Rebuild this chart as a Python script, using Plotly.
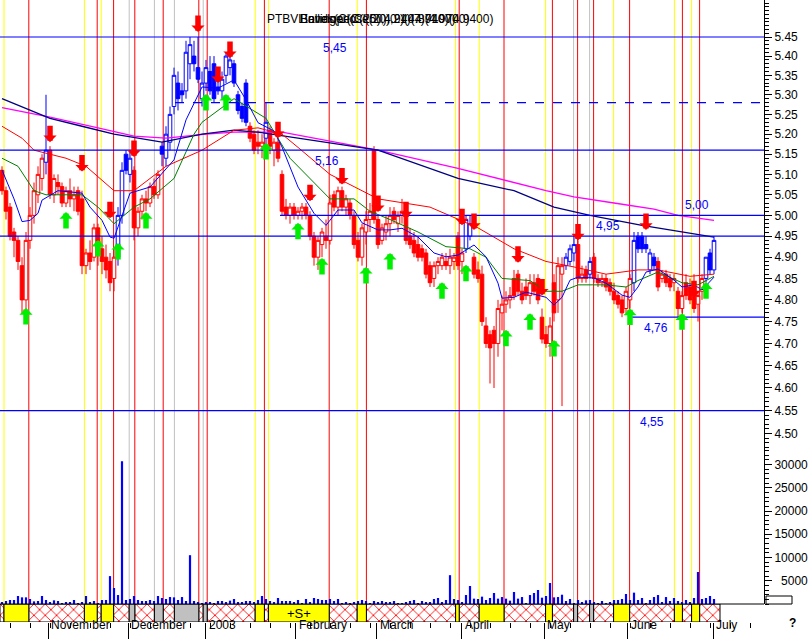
import math
import plotly.graph_objects as go

# ---------------- data ----------------
open_ = [5.11,5.06,5.02,4.96,4.94,4.88,4.80,4.94,5.00,5.05, 5.09,5.13,5.16,5.05,5.08,5.07,5.03,5.06,5.04,5.06,
         5.04,4.88,4.91,4.90,4.97,4.92,4.90,4.89,4.85,4.90, 5.00,5.15,5.10,5.11,4.97,5.01,5.04,5.03,5.07,5.05,
         5.17,5.14,5.18,5.27,5.33,5.31,5.31,5.38,5.40,5.37, 5.29,5.33,5.36,5.38,5.32,5.31,5.35,5.37,5.38,5.30,
         5.27,5.33,5.22,5.20,5.18,5.17,5.19,5.21,5.16,5.18, 5.10,5.02,5.00,5.02,5.00,5.01,5.02,5.00,4.95,4.90,
         4.93,4.95,4.94,5.05,5.02,5.06,5.02,5.03,5.00,4.94, 4.90,4.96,4.99,5.16,4.99,4.94,4.96,4.98,5.01,4.98,
         5.00,5.01,4.95,4.94,4.93,4.92,4.91,4.88,4.85,4.88, 4.88,4.89,4.88,4.89,4.95,4.89,4.92,4.95,4.90,4.87,
         4.86,4.74,4.72,4.73,4.70,4.77,4.79,4.80,4.85,4.86, 4.82,4.83,4.81,4.84,4.85,4.76,4.72,4.70,4.84,4.80,
         4.86,4.88,4.89,4.91,4.93,4.85,4.87,4.86,4.90,4.85, 4.84,4.85,4.84,4.82,4.81,4.80,4.78,4.80,4.84,4.95,
         4.95,4.93,4.87,4.90,4.89,4.85,4.86,4.85,4.84,4.82, 4.78,4.84,4.83,4.83,4.79,4.82,4.85,4.91,4.87]
high = [5.12,5.07,5.03,4.97,4.95,4.90,4.96,5.02,5.08,5.12, 5.15,5.30,5.17,5.10,5.10,5.08,5.07,5.09,5.07,5.07,
        5.06,4.92,4.94,4.98,4.98,4.95,4.93,4.91,4.92,5.02, 5.13,5.16,5.16,5.12,5.02,5.05,5.06,5.08,5.09,5.11,
        5.18,5.22,5.27,5.37,5.36,5.33,5.44,5.45,5.44,5.45, 5.36,5.39,5.40,5.40,5.35,5.36,5.41,5.40,5.39,5.31,
        5.28,5.34,5.23,5.21,5.21,5.20,5.28,5.22,5.19,5.19, 5.11,5.04,5.03,5.03,5.02,5.03,5.03,5.01,4.96,4.95,
        4.97,4.99,5.05,5.06,5.07,5.07,5.05,5.04,5.01,4.96, 4.98,5.01,5.03,5.17,5.00,4.98,5.00,5.02,5.02,5.01,
        5.04,5.02,4.97,4.96,4.95,4.93,4.92,4.89,4.89,4.90, 4.91,4.91,4.92,4.91,4.96,4.92,5.00,5.00,4.91,4.89,
        4.88,4.76,4.73,4.74,4.80,4.81,4.82,4.83,4.87,4.87, 4.84,4.85,4.86,4.86,4.86,4.78,4.74,4.76,4.86,4.90,
        4.90,4.91,4.93,4.95,4.94,4.88,4.88,4.90,4.91,4.86, 4.86,4.86,4.85,4.84,4.82,4.81,4.83,4.86,4.96,4.96,
        4.96,4.95,4.92,4.91,4.90,4.87,4.87,4.86,4.86,4.83, 4.82,4.86,4.85,4.86,4.82,4.86,4.90,4.92,4.95]
low = [5.05,4.99,4.94,4.90,4.87,4.77,4.77,4.92,4.98,5.03, 5.06,5.10,5.04,5.03,5.05,5.02,5.02,5.02,5.01,5.00,
       4.86,4.86,4.87,4.89,4.88,4.86,4.85,4.82,4.82,4.88, 4.98,5.10,5.08,4.94,4.95,4.99,5.01,5.02,5.04,5.04,
       5.12,5.12,5.16,5.25,5.26,5.28,5.29,5.34,5.36,5.33, 5.27,5.31,5.30,5.28,5.30,5.29,5.33,5.35,5.32,5.25,
       5.23,5.22,5.18,5.15,5.15,5.14,5.17,5.15,5.12,5.13, 5.00,4.99,4.98,4.99,4.99,4.99,4.99,4.94,4.88,4.87,
       4.90,4.92,4.93,5.01,5.00,5.01,5.00,4.99,4.92,4.89, 4.88,4.93,4.96,4.98,4.92,4.93,4.94,4.95,4.98,4.96,
       4.98,4.93,4.92,4.90,4.89,4.89,4.85,4.83,4.83,4.86, 4.87,4.87,4.86,4.87,4.87,4.86,4.91,4.94,4.85,4.84,
       4.74,4.69,4.61,4.60,4.67,4.73,4.77,4.78,4.80,4.81, 4.79,4.80,4.79,4.81,4.79,4.70,4.69,4.67,4.75,4.77,
       4.56,4.87,4.88,4.89,4.84,4.84,4.84,4.85,4.84,4.83, 4.83,4.82,4.81,4.79,4.78,4.76,4.77,4.78,4.82,4.91,
       4.91,4.91,4.86,4.87,4.82,4.84,4.83,4.82,4.82,4.76, 4.77,4.80,4.79,4.77,4.75,4.80,4.84,4.86,4.86]
close = [5.06,5.01,4.95,4.94,4.89,4.80,4.94,5.00,5.06,5.10, 5.14,5.16,5.05,5.09,5.07,5.03,5.06,5.04,5.05,5.01,
         4.88,4.91,4.89,4.97,4.91,4.89,4.87,4.84,4.90,5.00, 5.11,5.11,5.14,4.97,5.01,5.04,5.03,5.07,5.05,5.10,
         5.15,5.20,5.25,5.35,5.29,5.30,5.41,5.43,5.38,5.34, 5.33,5.37,5.31,5.29,5.31,5.34,5.40,5.39,5.33,5.26,
         5.24,5.23,5.19,5.16,5.17,5.18,5.23,5.17,5.18,5.14, 5.01,5.00,5.02,5.00,5.01,5.02,5.00,4.95,4.90,4.94,
         4.96,4.94,5.03,5.02,5.06,5.02,5.04,5.00,4.93,4.90, 4.97,4.99,5.01,4.99,4.93,4.97,4.98,5.00,4.99,5.00,
         5.01,4.94,4.93,4.91,4.90,4.90,4.86,4.84,4.88,4.89, 4.90,4.88,4.90,4.90,4.88,4.91,4.99,4.98,4.86,4.85,
         4.75,4.70,4.69,4.70,4.78,4.79,4.80,4.81,4.81,4.82, 4.80,4.81,4.84,4.82,4.80,4.71,4.70,4.74,4.77,4.88,
         4.88,4.90,4.92,4.93,4.85,4.86,4.85,4.89,4.85,4.84, 4.85,4.83,4.82,4.80,4.79,4.77,4.82,4.85,4.94,4.92,
         4.92,4.92,4.91,4.88,4.83,4.86,4.84,4.83,4.85,4.78, 4.81,4.81,4.80,4.78,4.81,4.85,4.90,4.87,4.94]
# day ranges (inclusive) where candles are drawn blue instead of red
blue_ranges = [(11, 11), (29, 32), (40, 61), (66, 66), (116, 117), (141, 143), (147, 147), (158, 163), (176, 178)]

volume = [290,650,860,860,1720,1430,1430,1070,570,650, 1720,860,430,790,650,215,360,430,860,215,
          430,1720,430,650,215,860,860,6000,3440,1930, 30700,860,1070,1720,860,650,650,860,650,1720,
          1290,1070,1500,1430,860,1500,650,10500,650,430, 215,430,360,215,650,650,430,720,1070,430,
          430,650,650,430,860,1720,1070,650,430,1290, 650,650,650,430,860,215,1070,430,1290,1070,
          860,860,1070,650,1070,215,430,215,430,650, 860,650,215,650,
          430,650,290,430,650,215,215,430,650,860, 70,650,430,430,1070,1290,430,860,6200,1070,
          860,430,1930,3870,1150,1070,1580,860,1290,2370, 1150,1500,1150,720,2580,1150,1500,215,1930,2370,
          3010,1360,1720,4520,1430,1500,2000,650,1070,215, 860,430,790,860,430,215,650,215,430,860,
          860,1070,2150,860,2440,860,1290,215,860,1500, 1930,430,1500,650,1290,650,430,860,430,1290,
          6880,1070,1290,1720,1070]

# moving averages, (day, value) pairs
ma_fast_day = [0,3,5,7,9,10,14,20,22,25,27,28,32,37,43,46,50,54,58,61,64,68,70,74,78,81,84,88,90,94,
               97,100,104,108,111,114,118,121,124,125,128,131,136,138,140,142,144,148,151,155,157,159,161,164,168,170,173,175,178]
ma_fast_val = [5.111,5.04,4.985,4.988,5.005,5.037,5.06,5.054,5.02,4.988,4.948,4.945,5.054,5.069,5.136,5.236,5.32,5.317,5.338,5.287,
               5.229,5.208,5.168,5.069,5.005,4.976,5.013,5.013,4.982,4.965,4.965,4.969,4.948,4.91,4.901,4.905,4.929,4.901,4.839,4.804,
               4.806,4.818,4.806,4.788,4.806,4.846,4.853,4.851,4.839,4.811,4.806,4.83,4.865,4.872,4.846,4.83,4.835,4.823,4.853]
ma_20_day = [0,4,8,11,20,24,28,33,37,43,48,50,58,66,72,82,88,92,97,104,111,117,121,125,132,136,140,144,151,156,159,164,170,174,178]
ma_20_val = [5.14,5.12,5.06,5.05,5.05,5.02,4.98,5.02,5.04,5.09,5.20,5.23,5.29,5.24,5.14,5.04,5.04,5.01,4.99,4.96,
             4.925,4.92,4.90,4.85,4.845,4.82,4.82,4.835,4.835,4.83,4.845,4.865,4.84,4.835,4.855]
ma_50_day = [0,5,8,16,21,28,33,41,50,58,64,70,74,82,94,107,119,128,136,143,151,159,164,172,178]
ma_50_val = [5.22,5.19,5.16,5.14,5.12,5.06,5.06,5.12,5.16,5.21,5.216,5.20,5.167,5.10,5.04,5.02,4.97,4.92,4.89,4.877,
             4.86,4.87,4.87,4.855,4.86]
ma_100_day = [0,12,20,28,40,50,58,64,74,94,114,128,138,147,160,170,178]
ma_100_val = [5.29,5.24,5.22,5.20,5.18,5.20,5.21,5.205,5.19,5.16,5.09,5.06,5.02,5.00,4.976,4.96,4.948]
ma_200_day = [0,12,24,33,41,51,58,70,94,114,136,143,153,163,169,178]
ma_200_val = [5.267,5.243,5.216,5.195,5.19,5.20,5.205,5.205,5.16,5.115,5.06,5.045,5.03,5.015,5.00,4.988]

# horizontal price levels: value, first day, dashed?
level_val = [5.45, 5.28, 5.16, 5.00, 4.95, 4.76, 4.55]
level_from = [-0.5, 43.25, -0.5, 69.5, -0.5, 157.0, -0.5]
level_dash = [False, True, False, False, False, False, False]
# level captions: text, day, value, above?
cap_text = ["5,45", "5,16", "5,00", "4,95", "4,76", "4,55"]
cap_day = [83.25, 81.25, 173.75, 151.5, 163.5, 162.5]
cap_val = [5.45, 5.16, 5.00, 4.95, 4.76, 4.55]
cap_above = [False, False, True, True, False, False]

# signal days (vertical lines)
sig_yellow = [0.5, 20.6, 24.8, 63.3, 66.6, 88.8, 113.4, 119.3, 135.9, 152.9, 168.1, 172.4]
sig_red = [6.7, 23.8, 27.9, 33.2, 40.3, 49.2, 51.3, 65.6, 81.8, 91.1, 114.3, 125.5, 137.6, 143.9, 147.9, 156.9, 170.1, 174.4]
sig_gray = [31.8, 38.1, 43.1, 50.3, 142.9, 146.9]

# arrows: day, price at tip
sell_day = [12,20,27,33,49,54,57,69,77,85,94,101,115,118,129,135,144,161,173]
sell_px = [5.18,5.107,4.993,5.143,5.463,5.33,5.395,5.19,5.034,5.075,5.008,4.993,4.976,4.965,4.887,4.81,4.94,4.965,4.806]
buy_day = [6,16,24,29,36,51,56,66,74,80,91,97,110,116,126,132,138,157,170,176]
buy_px = [4.781,5.008,4.941,4.934,5.008,5.302,5.302,5.178,4.982,4.898,4.877,4.91,4.841,4.882,4.731,4.769,4.708,4.78,4.769,4.841]

month_day = [11.5, 31.5, 50.9, 73.4, 93.7, 114.9, 135.5, 156.4, 177.8]
month_name = ["Novem ber", "December", "2003", "February", "March", "April", "May", "June", "July"]

price_ticks = [round(4.50 + 0.05 * k, 2) for k in range(20)]
vol_ticks = [5000, 10000, 15000, 20000, 25000, 30000]

# ---------------- geometry / style ----------------
W, H = 811, 640
PLOT_R = 764
DAY_PX = 4.0
X0 = -0.5
X1 = X0 + PLOT_R / DAY_PX
PRICE_BOT, VOL_BOT, BAND_BOT = 450, 604, 622
LN_PX = 2070.0
p_top = 5.45 * math.exp(37 / LN_PX)
p_bot = 5.45 * math.exp(-(PRICE_BOT - 37) / LN_PX)
VOL_PER_PX = 1000 / 4.65
vol_max = (VOL_BOT - PRICE_BOT) * VOL_PER_PX

RED, BLUE, NAVY, MAG, GREEN = "#ff0000", "#0000ff", "#000080", "#ff00ff", "#008000"
ARROW_GREEN = "#00ee00"
FONT = "Liberation Sans, Arial, sans-serif"


def yf(px):
    return 1 - px / H


n = len(close)
days = list(range(n))
trend = ["R"] * n
for a, b in blue_ranges:
    for i in range(a, b + 1):
        trend[i] = "B"

fig = go.Figure()

# volume
fig.add_trace(go.Bar(x=days, y=volume, width=0.55, marker=dict(color=BLUE, line=dict(width=0)),
                     yaxis="y2", hoverinfo="skip"))

# candles
for key, col in (("R", RED), ("B", BLUE)):
    idx = [i for i in days if trend[i] == key]
    fig.add_trace(go.Candlestick(
        x=idx, open=[open_[i] for i in idx], high=[high[i] for i in idx],
        low=[low[i] for i in idx], close=[close[i] for i in idx],
        increasing=dict(line=dict(color=col, width=1), fillcolor="white"),
        decreasing=dict(line=dict(color=col, width=1), fillcolor=col),
        whiskerwidth=0, yaxis="y", hoverinfo="skip"))

# moving averages
for dx, vy, col, w in ((ma_200_day, ma_200_val, MAG, 1.3), (ma_100_day, ma_100_val, NAVY, 1.3),
                       (ma_50_day, ma_50_val, RED, 1), (ma_20_day, ma_20_val, GREEN, 1),
                       (ma_fast_day, ma_fast_val, BLUE, 1)):
    fig.add_trace(go.Scatter(x=dx, y=vy, mode="lines", line=dict(color=col, width=w), yaxis="y",
                             hoverinfo="skip"))

# price levels
for v, f, d in zip(level_val, level_from, level_dash):
    fig.add_trace(go.Scatter(x=[f, X1], y=[v, v], mode="lines", yaxis="y", hoverinfo="skip",
                             line=dict(color=BLUE, width=1.2, dash="dash" if d else "solid")))

# bottom signal band
events = sorted([(p, "yellow") for p in sig_yellow] + [(p, "hatch") for p in sig_red] +
                [(p, "gray") for p in sig_gray])
band_end = n - 1 + 1.5
bounds = [X0] + [e[0] for e in events] + [band_end]
kinds = ["hatch"] + [e[1] for e in events]
seg_mid = [(bounds[k] + bounds[k + 1]) / 2 for k in range(len(kinds))]
seg_w = [bounds[k + 1] - bounds[k] for k in range(len(kinds))]

hx = [m for m, k in zip(seg_mid, kinds) if k == "hatch"]
hw = [w for w, k in zip(seg_w, kinds) if k == "hatch"]
fig.add_trace(go.Bar(x=hx, y=[1] * len(hx), width=hw, base=0, yaxis="y3", hoverinfo="skip",
                     marker=dict(color="white", line=dict(color="black", width=1),
                                 pattern=dict(shape="x", fgcolor=RED, bgcolor="white", size=8,
                                              solidity=0.2, fillmode="replace"))))
sx = [m for m, k in zip(seg_mid, kinds) if k != "hatch"]
sw = [w for w, k in zip(seg_w, kinds) if k != "hatch"]
sc = ["#ffff00" if k == "yellow" else "#c0c0c0" for k in kinds if k != "hatch"]
fig.add_trace(go.Bar(x=sx, y=[1] * len(sx), width=sw, base=0, yaxis="y3", hoverinfo="skip",
                     marker=dict(color=sc, line=dict(color="black", width=1))))

# vertical signal lines
shapes = []
for lst, col in ((sig_gray, "#c0c0c0"), (sig_yellow, "#ffff00"), (sig_red, RED)):
    for p in lst:
        shapes.append(dict(type="line", xref="x", yref="paper", x0=p, x1=p, y0=yf(VOL_BOT), y1=1,
                           line=dict(color=col, width=1), layer="below"))
# volume baseline, small box
shapes.append(dict(type="line", xref="paper", yref="paper", x0=0, x1=PLOT_R / W, y0=yf(VOL_BOT),
                   y1=yf(VOL_BOT), line=dict(color="black", width=1)))
shapes.append(dict(type="rect", xref="paper", yref="paper", x0=766 / W, x1=792 / W, y0=yf(604), y1=yf(596),
                   line=dict(color="black", width=1)))

ann = []
# arrows (block arrows: wide flat-backed head on a thick shaft)
for d, p in zip(sell_day, sell_px):
    ann.append(dict(x=d, y=math.log10(p), xref="x", yref="y", text="", showarrow=True, arrowhead=1,
                    arrowsize=0.4, arrowwidth=5.5, arrowcolor=RED, ax=0, ay=-18, standoff=0))
for d, p in zip(buy_day, buy_px):
    ann.append(dict(x=d, y=math.log10(p), xref="x", yref="y", text="", showarrow=True, arrowhead=1,
                    arrowsize=0.4, arrowwidth=5.5, arrowcolor=ARROW_GREEN, ax=0, ay=18, standoff=0))
# level captions
for t, d, v, up in zip(cap_text, cap_day, cap_val, cap_above):
    ann.append(dict(x=d, y=math.log10(v), xref="x", yref="y", text=t, showarrow=False,
                    yshift=10 if up else -11, font=dict(family=FONT, size=12, color=BLUE)))
# month labels
for d, t in zip(month_day, month_name):
    ann.append(dict(x=d, y=yf(634), xref="x", yref="paper", text=t, showarrow=False, xanchor="left",
                    xshift=1, font=dict(family=FONT, size=12, color="black")))
# band caption inside the yellow block that contains day 74
for m, w, k in zip(seg_mid, seg_w, kinds):
    if k == "yellow" and m - w / 2 <= 74 <= m + w / 2:
        ann.append(dict(x=m, y=0.5, xref="x", yref="y3", text="+S+", showarrow=False,
                        font=dict(family=FONT, size=13, color="black")))
# title (overlapping study names)
ann.append(dict(x=265 / W, y=yf(10), xref="paper", yref="paper", text="PTBVL", showarrow=False,
                xanchor="left", font=dict(family=FONT, size=12, color="black")))
for t in ("Bands(Close(20),2)(4.8710)(4.9400)", "Bollinger(C(20),4.9407)(4.9700)", "Envelope(Cl(50),0.1)(4.9400)"):
    ann.append(dict(x=298 / W, y=yf(10), xref="paper", yref="paper", text=t, showarrow=False,
                    xanchor="left", font=dict(family=FONT, size=12, color="black")))
ann.append(dict(x=798 / W, y=yf(632), xref="paper", yref="paper", text="<b>?</b>", showarrow=False,
                font=dict(family=FONT, size=12, color="black")))

fig.update_layout(
    width=W, height=H, margin=dict(l=0, r=0, t=0, b=0), paper_bgcolor="white", plot_bgcolor="white",
    showlegend=False, barmode="overlay", boxgap=0.1, boxgroupgap=0,
    shapes=shapes, annotations=ann,
    xaxis=dict(domain=[0, PLOT_R / W], range=[X0, X1], anchor="y3", showgrid=False, zeroline=False,
               showline=False, ticks="outside", tickmode="array", tickvals=month_day, ticklen=16,
               tickcolor="black", showticklabels=False, rangeslider=dict(visible=False),
               minor=dict(tick0=2.2, dtick=5, ticks="outside", ticklen=5, tickcolor="black")),
    yaxis=dict(domain=[yf(PRICE_BOT), 1], type="log", range=[math.log10(p_bot), math.log10(p_top)],
               side="right", anchor="x", showgrid=False, zeroline=False, showline=True, linecolor="black",
               ticks="outside", ticklen=7, tickcolor="black", tickmode="array", tickvals=price_ticks,
               ticktext=["%.2f" % v for v in price_ticks], tickfont=dict(family=FONT, size=12, color="black"),
               minor=dict(tickmode="array", tickvals=[round(4.46 + 0.01 * k, 2) for k in range(109)],
                          ticks="outside", ticklen=4, tickcolor="black")),
    yaxis2=dict(domain=[yf(VOL_BOT), yf(PRICE_BOT)], range=[0, vol_max], side="right", anchor="x",
                showgrid=False, zeroline=False, showline=True, linecolor="black", ticks="outside",
                ticklen=7, tickcolor="black", tickmode="array", tickvals=vol_ticks,
                ticktext=[("\u2007" if v < 10000 else "") + str(v) for v in vol_ticks],
                tickfont=dict(family=FONT, size=12, color="black"),
                minor=dict(dtick=1000, ticks="outside", ticklen=4, tickcolor="black")),
    yaxis3=dict(domain=[yf(BAND_BOT), yf(VOL_BOT)], range=[0, 1], anchor="x", visible=False),
)

fig.write_html("out.html", config={"displayModeBar": False},
               post_script="document.body.style.margin='0';document.body.style.overflow='hidden';")
